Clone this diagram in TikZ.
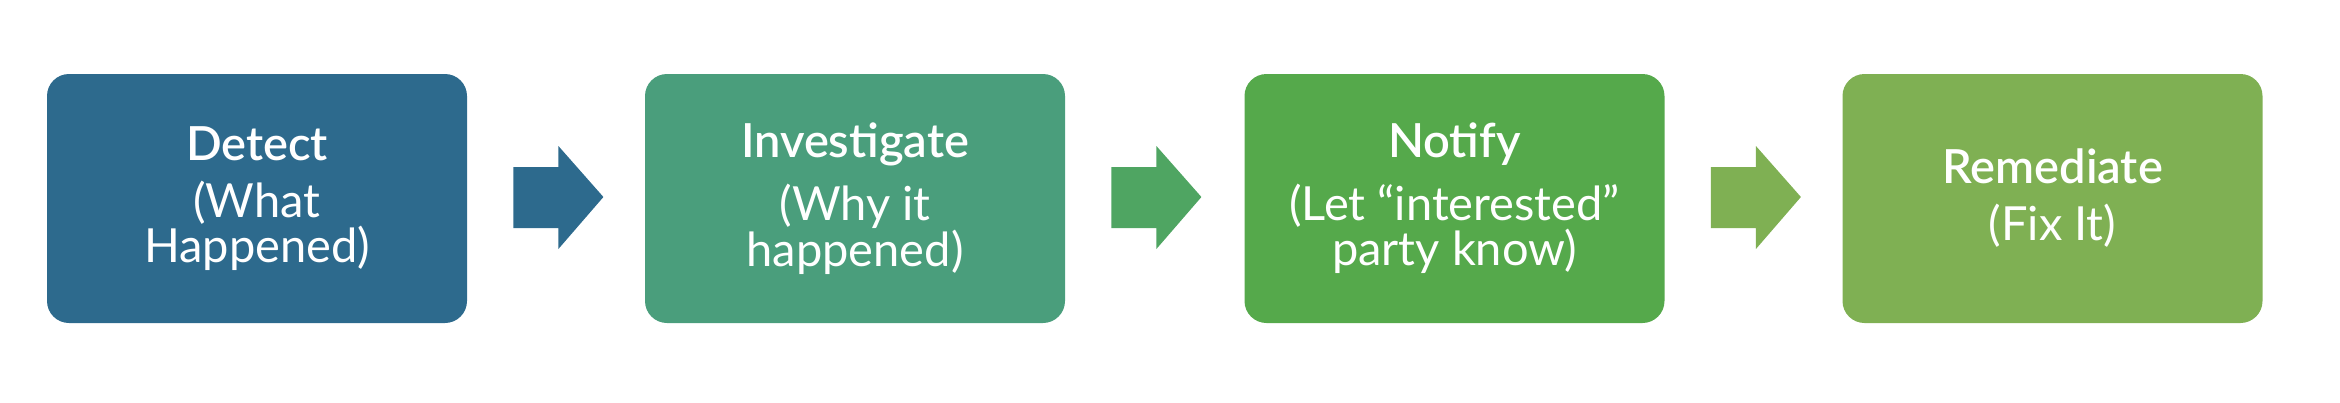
\documentclass[tikz,border=0pt]{standalone}
\usepackage{fontspec}
\setmainfont{Lato}[BoldFont={Lato Semibold}]
\usetikzlibrary{calc}
\definecolor{cA}{HTML}{2D6A8D}
\definecolor{cB}{HTML}{4A9E7C}
\definecolor{aB}{HTML}{4FA562}
\definecolor{cC}{HTML}{55A94B}
\definecolor{cD}{HTML}{7FB053}
\tikzset{
  stepbox/.style={rounded corners=11pt, minimum width=210pt, minimum height=124.5pt,
    align=center, text=white, inner sep=0pt,
    font=\fontsize{23.5pt}{20.5pt}\selectfont}
}
\newcommand{\ttl}[1]{\textbf{#1}\\[8pt]}
\begin{document}
\begin{tikzpicture}[x=0.5pt,y=-0.5pt]
\useasboundingbox (0,0) rectangle (2340,402);
\node[stepbox, fill=cA] (b1) at (257,198.5) {\ttl{Detect}(What\\Happened)};
\node[stepbox, fill=cB] (b2) at (855,198.5) {\ttl{Investigate}(Why it\\happened)};
\node[stepbox, fill=cC] (b3) at (1454.5,198.5) {\ttl{Notify}(Let “interested”\\party know)};
\node[stepbox, fill=cD] (b4) at (2052.5,198.5) {\ttl{Remediate}(Fix It)};
\foreach \s/\c in {b1/cA,b2/aB,b3/cD}{
  \fill[\c] ($(\s.east)+(46,-31.5)$) -- ($(\s.east)+(91,-31.5)$) -- ($(\s.east)+(91,-52.5)$)
    -- ($(\s.east)+(136,-1.5)$) -- ($(\s.east)+(91,50.5)$) -- ($(\s.east)+(91,29.5)$)
    -- ($(\s.east)+(46,29.5)$) -- cycle;
}
\end{tikzpicture}
\end{document}
